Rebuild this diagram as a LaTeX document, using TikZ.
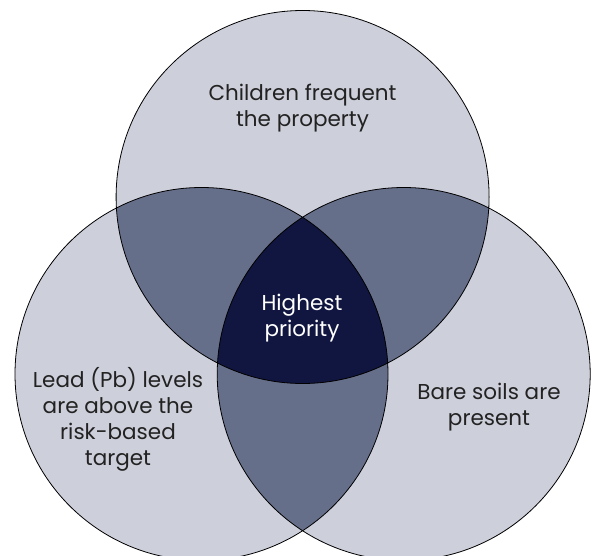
\documentclass[tikz,border=0pt]{standalone}
\usepackage{fontspec}
\setmainfont{Poppins}
\usepackage{xcolor}
\usepackage{tikz}
\usetikzlibrary{positioning}
\definecolor{lightset}{HTML}{CDCFDB}
\definecolor{midset}{HTML}{666F8A}
\definecolor{darkset}{HTML}{111640}
\definecolor{labeltext}{HTML}{222222}

\begin{document}
\begin{tikzpicture}[x=1pt,y=-1pt,
	setlabel/.style={align=center,font=\fontsize{21.5}{26}\selectfont,text=labeltext},
	setline/.style={draw=black,line width=0.8pt}]
	\useasboundingbox (0,0) rectangle (592,556);
	\coordinate (T) at (302.6,197);
	\coordinate (L) at (201.5,374);
	\coordinate (R) at (403.7,374);
	\fill[lightset] (T) circle[radius=186.5pt] (L) circle[radius=186.5pt] (R) circle[radius=186.5pt];
	\begin{scope}
		\clip (T) circle[radius=186.5pt];
		\fill[midset] (L) circle[radius=186.5pt] (R) circle[radius=186.5pt];
	\end{scope}
	\begin{scope}
		\clip (L) circle[radius=186.5pt];
		\fill[midset] (R) circle[radius=186.5pt];
	\end{scope}
	\begin{scope}
		\clip (T) circle[radius=186.5pt];
		\clip (L) circle[radius=186.5pt];
		\fill[darkset] (R) circle[radius=186.5pt];
	\end{scope}
	\draw[setline] (T) circle[radius=186.5pt] (L) circle[radius=186.5pt] (R) circle[radius=186.5pt];
	\node[setlabel] (children) at (302.5,108) {Children frequent\\the property};
	\node[setlabel,text=white] (priority) at (302,318) {Highest\\priority};
	\node[setlabel] (lead) at (118,419) {Lead (Pb) levels\\are above the\\risk-based\\target};
	\node[setlabel] (soils) at (489,407) {Bare soils are\\present};
\end{tikzpicture}
\end{document}
